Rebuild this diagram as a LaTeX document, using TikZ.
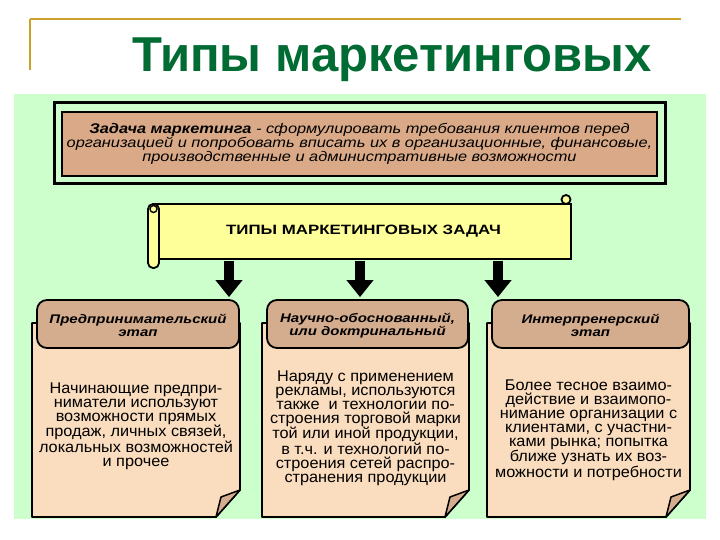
\documentclass[tikz,border=0pt]{standalone}
\usepackage{fontspec}
\setmainfont{Liberation Sans}
\newfontfamily\widefont[FakeStretch=1.2]{Liberation Sans}
\newfontfamily\bannerfont[FakeStretch=1.25]{Liberation Sans}
\newfontfamily\taskfont[FakeStretch=1.17]{Liberation Sans}
\newfontfamily\bodyfont[FakeStretch=1.05]{Liberation Sans}
\usetikzlibrary{arrows.meta,calc}
\definecolor{panel}{HTML}{CCFFCC}
\definecolor{gold}{HTML}{C9A227}
\definecolor{ttl}{HTML}{006B33}
\definecolor{tanbox}{HTML}{DAAA88}
\definecolor{hdr}{HTML}{D4AC8E}
\definecolor{cardbg}{HTML}{FADCBE}
\definecolor{scrollc}{HTML}{FFFF99}
\tikzset{
  cardbox/.style={draw=black, line width=1.8pt, fill=cardbg, line join=round},
  foldst/.style={draw=black, line width=1.5pt, fill=hdr, line join=round},
  hdrbox/.style={draw=black, line width=1.8pt, fill=hdr, rounded corners=10pt, minimum height=48pt, inner sep=0pt, align=center,
    font=\widefont\bfseries\itshape\fontsize{12.5}{12.5}\selectfont},
  bodytxt/.style={align=center, inner sep=0pt, font=\bodyfont\fontsize{15.5}{14}\selectfont},
  scrollst/.style={draw=black, line width=1.8pt, fill=scrollc},
  bigarrow/.style={line width=10pt, -{Triangle[width=26pt,length=17pt]}, shorten >=2pt},
}
\newcommand\mycard[6]{%
  \draw[cardbox] (#2,323) -- (#3,323) -- (#3,490) -- ({#3-24},517) -- (#2,517) -- cycle;
  \draw[foldst] (#3,490) -- ({#3-24},517) -- ({#3-19},497) -- cycle;
  \node[hdrbox, minimum width={#3-#2-6}] (#1) at ({(#2+#3)/2+2},324) {};
  \node[align=center, inner sep=0pt, font=\widefont\bfseries\itshape\fontsize{12.5}{12.5}\selectfont] (#1t) at ({(#2+#3)/2+2},325.5) {#4};
  \node[bodytxt] (#1body) at ({(#2+#3)/2},#6) {#5};
}
\begin{document}
\begin{tikzpicture}[x=1pt,y=-1pt]
\useasboundingbox (0,0) rectangle (720,540);
\fill[white] (0,0) rectangle (720,540);
% title decoration
\draw[gold, line width=2.2pt] (30,19) -- (681,19);
\draw[gold, line width=2.2pt] (30,19) -- (30,70);
\node[anchor=base, text=ttl, font=\bfseries\fontsize{49}{49}\selectfont, inner sep=0pt] (title) at (392,72) {Типы маркетинговых};
% panel
\fill[panel] (14,94) rectangle (706,519);
% top box
\draw[line width=3pt] (54,103) rectangle (665,184);
\node[draw=black, line width=2pt, fill=tanbox, minimum width=595pt, minimum height=64pt, inner sep=0pt, align=center,
  font=\taskfont\itshape\fontsize{14}{13}\selectfont] (task) at (359.5,144) {\textbf{Задача маркетинга} - сформулировать требования клиентов перед\\
организацией и попробовать вписать их в организационные, финансовые,\\
производственные и административные возможности};
% scroll banner
\node[scrollst, minimum width=415pt, minimum height=55pt, inner sep=0pt, font=\bannerfont\bfseries\fontsize{13.5}{12}\selectfont] (banner) at (363.5,231.5) {ТИПЫ МАРКЕТИНГОВЫХ ЗАДАЧ};
\draw[scrollst] (566,199.5) circle (4.5);
\draw[scrollst, rounded corners=5pt] (148,204) rectangle (159,268);
\draw[draw=black, line width=1.4pt, fill=scrollc] (153.5,209) circle (3.5);
% cards
\mycard{c1}{32}{240}{Предпринимательский\\этап}{Начинающие предпри-\\ниматели используют\\возможности прямых\\продаж, личных связей,\\локальных возможностей\\и прочее}{426}
\mycard{c2}{262}{469}{Научно-обоснованный,\\или доктринальный}{Наряду с применением\\рекламы, используются\\также\ \ и технологии по-\\строения торговой марки\\той или иной продукции,\\в т.ч. и технологий по-\\строения сетей распро-\\странения продукции}{428}
\mycard{c3}{487}{690}{Интерпренерский\\этап}{Более тесное взаимо-\\действие и взаимопо-\\нимание организации с\\клиентами, с участни-\\ками рынка; попытка\\ближе узнать их воз-\\можности и потребности}{430}
% arrows
\coordinate (a1) at (229,261);
\coordinate (a2) at (360,261);
\coordinate (a3) at (498,261);
\draw[bigarrow] (a1) -- (a1 |- c1.north);
\draw[bigarrow] (a2) -- (a2 |- c2.north);
\draw[bigarrow] (a3) -- (a3 |- c3.north);
\end{tikzpicture}
\end{document}
